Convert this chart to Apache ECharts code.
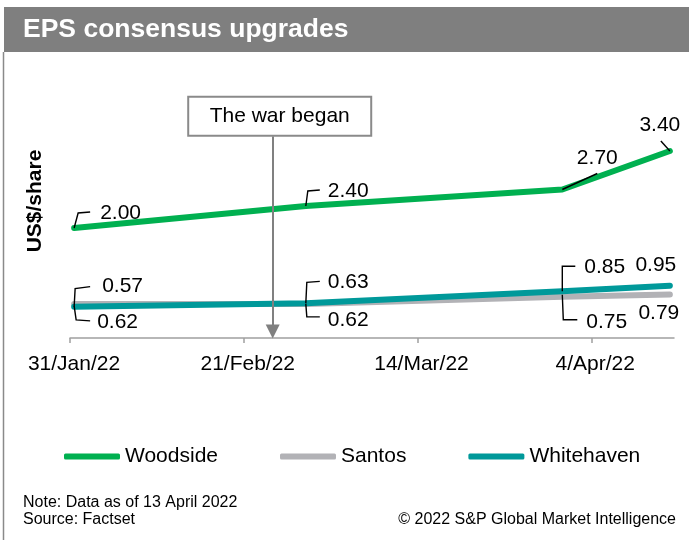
<!DOCTYPE html>
<html>
<head>
<meta charset="utf-8">
<script src="https://cdn.jsdelivr.net/npm/echarts@6/dist/echarts.min.js"></script>
<style>
html,body{margin:0;padding:0;background:#fff;}
#chart{width:689px;height:540px;}
</style>
</head>
<body>
<div id="chart"></div>
<script>
// ---- data ----
const dates = ['2022-01-31', '2022-02-28', '2022-03-31', '2022-04-13'];
const woodside = [2.00, 2.40, 2.70, 3.40];
const santos = [0.62, 0.62, 0.75, 0.79];
const whitehaven = [0.57, 0.63, 0.85, 0.95];
const seriesNames = ['Woodside', 'Santos', 'Whitehaven'];
const tickLabels = ['31/Jan/22', '21/Feb/22', '14/Mar/22', '4/Apr/22'];
const axisStart = '2022-01-31';
const axisEnd = '2022-04-14';
const warDate = '2022-02-24';
const warText = 'The war began';

// ---- styling / layout config ----
const FONT = 'Liberation Sans, Arial, sans-serif';
const colors = ['#00B050', '#B2B2B6', '#00999A'];
const labelCfg = [
  [{dx:26,dy:-15,a:'left'},{dx:22,dy:-15,a:'left'},{dx:35,dy:-31,a:'center'},{dx:-10,dy:-26,a:'center'}],
  [{dx:23,dy:18,a:'left'},{dx:22,dy:16,a:'left'},{dx:24,dy:25,a:'left'},{dx:-11,dy:19,a:'center'}],
  [{dx:28,dy:-20,a:'left'},{dx:22,dy:-21,a:'left'},{dx:22,dy:-24,a:'left'},{dx:-14,dy:-21,a:'center'}]
];
const leaderCfg = [
  [[[0,0],[4,-15],[16,-16]], [[0,0],[2,-15],[14,-16]], [[0,0],[35,-16]], [[0,0],[-9,-10]]],
  [[[0,2],[2,16],[16,17]], [[0,0],[1,13],[14,13]], [[0,-2],[1,23],[15,23]], null],
  [[[0,0],[1,-18],[16,-20]], [[0,0],[1,-21],[14,-22]], [[0,0],[0,-25],[13,-25]], null]
];

const DAY = 864e5;
const dayOf = d => (Date.parse(d) - Date.parse(axisStart)) / DAY;
const xOf = d => dayOf(d) + 0.5;   // points sit at mid-day
const xMax = dayOf(axisEnd);
const TICK_STEP = 21;

const allValues = [woodside, santos, whitehaven];

function buildSeries(i) {
  const vals = allValues[i];
  return {
    name: seriesNames[i],
    type: 'line',
    color: colors[i],
    z: 2 + i,
    symbol: 'circle',
    symbolSize: 1,
    showSymbol: true,
    animation: false,
    lineStyle: {width: 6, color: colors[i], cap: 'round', join: 'round'},
    itemStyle: {color: colors[i]},
    emphasis: {disabled: true},
    data: vals.map((v, k) => ({
      value: [xOf(dates[k]), v],
      label: {
        show: true,
        position: 'inside',
        align: labelCfg[i][k].a,
        verticalAlign: 'middle',
        offset: [labelCfg[i][k].dx, labelCfg[i][k].dy],
        formatter: p => p.value[1].toFixed(2),
        fontSize: 21,
        fontFamily: FONT,
        color: '#000'
      }
    }))
  };
}

const series = [0, 1, 2].map(buildSeries);

// annotation: war began arrow + box
series[0].markLine = {
  silent: true,
  animation: false,
  symbol: ['none', 'triangle'],
  symbolSize: 14,
  label: {show: false},
  lineStyle: {color: '#808080', width: 2, type: 'solid'},
  data: [[{coord: [xOf(warDate), 3.67]}, {coord: [xOf(warDate), 0.12]}]]
};
series[0].markPoint = {
  silent: true,
  animation: false,
  data: [{
    coord: [xOf(warDate), 4.03],
    symbol: 'circle',
    symbolSize: 1,
    itemStyle: {color: 'transparent'},
    label: {
      show: true, position: 'inside', formatter: warText,
      fontSize: 21, fontFamily: FONT, color: '#000',
      backgroundColor: '#fff', borderColor: '#8a8a8a', borderWidth: 2,
      width: 181, height: 37, lineHeight: 37, align: 'center', verticalAlign: 'middle',
      padding: 0, offset: [7, 0]
    }
  }]
};

// leader lines (drawn through the cartesian scale)
const leaderData = [];
for (let i = 0; i < 3; i++) {
  allValues[i].forEach((v, k) => {
    if (leaderCfg[i][k]) leaderData.push([xOf(dates[k]), v, i, k]);
  });
}
series.push({
  type: 'custom',
  z: 10,
  silent: true,
  clip: false,
  animation: false,
  data: leaderData,
  renderItem: (params, api) => {
    const p = api.coord([api.value(0), api.value(1)]);
    const shape = leaderCfg[api.value(2)][api.value(3)];
    return {
      type: 'polyline',
      shape: {points: shape.map(o => [p[0] + o[0], p[1] + o[1]])},
      style: {stroke: '#000', lineWidth: 1.4, fill: null}
    };
  }
});

const chart = echarts.init(document.getElementById('chart'), null, {renderer: 'canvas'});
chart.setOption({
  backgroundColor: '#fff',
  animation: false,
  grid: {left: 70, right: 15, top: 107, bottom: 202, containLabel: false, outerBoundsMode: 'none'},
  xAxis: {
    type: 'value',
    min: 0,
    max: xMax,
    interval: TICK_STEP,
    axisLine: {show: true, lineStyle: {color: '#a0a0a0', width: 1.5}},
    axisTick: {show: true, length: 5, lineStyle: {color: '#a0a0a0', width: 1.5}},
    splitLine: {show: false},
    axisLabel: {
      margin: 16,
      fontSize: 21,
      fontFamily: FONT,
      color: '#000',
      showMaxLabel: false,
      padding: [0, 0, 0, 8],
      formatter: v => (Math.abs(v % TICK_STEP) < 1e-6 ? (tickLabels[v / TICK_STEP] || '') : '')
    }
  },
  yAxis: {
    type: 'value',
    min: 0,
    max: 4.2,
    axisLine: {show: false},
    axisTick: {show: false},
    axisLabel: {show: false},
    splitLine: {show: false}
  },
  legend: {
    data: seriesNames,
    left: 59,
    top: 441,
    icon: 'roundRect',
    itemWidth: 56,
    itemHeight: 6,
    itemGap: 62,
    itemStyle: {borderWidth: 0},
    textStyle: {fontSize: 21, fontFamily: FONT, color: '#000'}
  },
  graphic: [
    {type: 'rect', shape: {x: 4, y: 7, width: 685, height: 45}, style: {fill: '#7f7f7f'}, silent: true},
    {type: 'line', shape: {x1: 3.5, y1: 52, x2: 3.5, y2: 540}, style: {stroke: '#8a8a8a', lineWidth: 1.5}, silent: true},
    {type: 'text', x: 23, y: 30, silent: true,
     style: {text: 'EPS consensus upgrades', fill: '#fff', font: 'bold 26.5px ' + FONT, textAlign: 'left', textVerticalAlign: 'middle'}},
    {type: 'text', x: 35, y: 201, rotation: Math.PI / 2, silent: true,
     style: {text: 'US$/share', fill: '#000', font: 'bold 21px ' + FONT, textAlign: 'center', textVerticalAlign: 'middle'}},
    {type: 'text', x: 23, y: 503, silent: true,
     style: {text: 'Note: Data as of 13 April 2022', fill: '#000', font: '16px ' + FONT, textAlign: 'left', textVerticalAlign: 'middle'}},
    {type: 'text', x: 23, y: 520, silent: true,
     style: {text: 'Source: Factset', fill: '#000', font: '16px ' + FONT, textAlign: 'left', textVerticalAlign: 'middle'}},
    {type: 'text', x: 676, y: 520, silent: true,
     style: {text: '\u00A9 2022 S&P Global Market Intelligence', fill: '#000', font: '16px ' + FONT, textAlign: 'right', textVerticalAlign: 'middle'}}
  ],
  series: series
});
</script>
</body>
</html>
